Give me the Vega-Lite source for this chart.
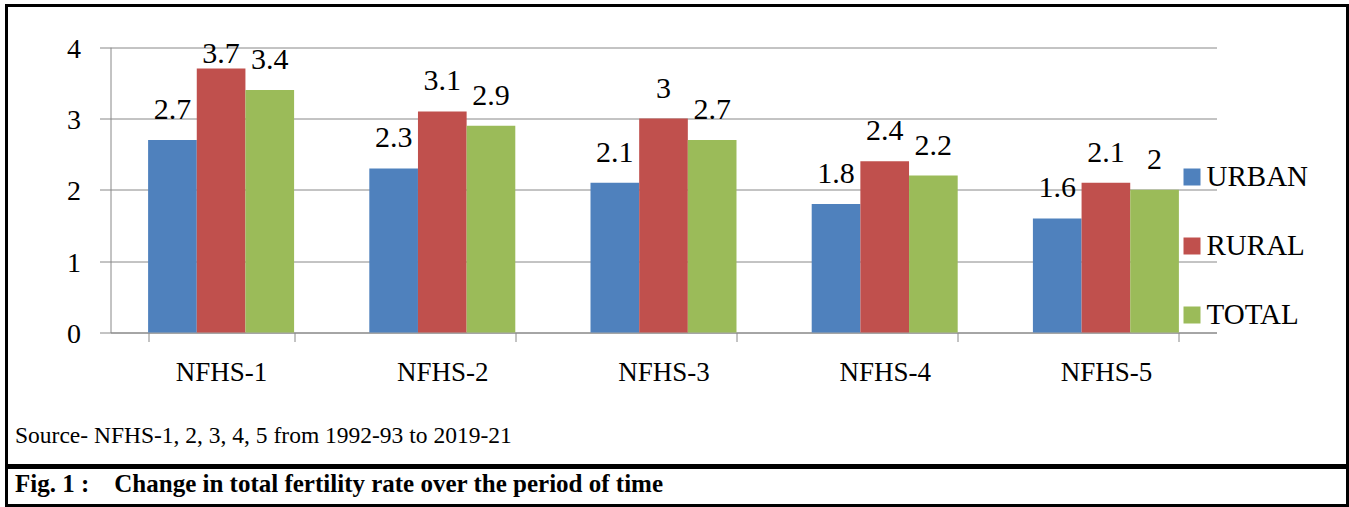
{
  "$schema": "https://vega.github.io/schema/vega-lite/v6.json",
  "padding": {"left": 4.5, "top": 3.5, "right": 0, "bottom": 0},
  "background": "white",
  "spacing": -3,
  "resolve": {"scale": {"color": "independent"}},
  "config": {
    "view": {"stroke": "black", "strokeWidth": 3, "fill": "white"},
    "font": "Liberation Serif",
    "axis": {"labelFont": "Liberation Serif", "titleFont": "Liberation Serif"},
    "legend": {"labelFont": "Liberation Serif", "titleFont": "Liberation Serif"},
    "text": {"font": "Liberation Serif"},
    "title": {"font": "Liberation Serif"}
  },
  "vconcat": [
    {
      "width": 1341,
      "height": 460,
      "data": {
        "values": [
          {"survey": "NFHS-1", "area": "URBAN", "tfr": 2.7},
          {"survey": "NFHS-1", "area": "RURAL", "tfr": 3.7},
          {"survey": "NFHS-1", "area": "TOTAL", "tfr": 3.4},
          {"survey": "NFHS-2", "area": "URBAN", "tfr": 2.3},
          {"survey": "NFHS-2", "area": "RURAL", "tfr": 3.1},
          {"survey": "NFHS-2", "area": "TOTAL", "tfr": 2.9},
          {"survey": "NFHS-3", "area": "URBAN", "tfr": 2.1},
          {"survey": "NFHS-3", "area": "RURAL", "tfr": 3.0},
          {"survey": "NFHS-3", "area": "TOTAL", "tfr": 2.7},
          {"survey": "NFHS-4", "area": "URBAN", "tfr": 1.8},
          {"survey": "NFHS-4", "area": "RURAL", "tfr": 2.4},
          {"survey": "NFHS-4", "area": "TOTAL", "tfr": 2.2},
          {"survey": "NFHS-5", "area": "URBAN", "tfr": 1.6},
          {"survey": "NFHS-5", "area": "RURAL", "tfr": 2.1},
          {"survey": "NFHS-5", "area": "TOTAL", "tfr": 2.0}
        ]
      },
      "encoding": {
        "x": {
          "field": "survey",
          "type": "nominal",
          "sort": null,
          "scale": {"range": [104, 1210], "paddingInner": 0.34, "paddingOuter": 0.17},
          "axis": {
            "orient": "bottom",
            "offset": -133,
            "tickBand": "extent",
            "tickSize": 9,
            "tickColor": "#888888",
            "domainColor": "#888888",
            "labelFont": "Liberation Serif",
            "labelFontSize": 27,
            "labelColor": "black",
            "labelAngle": 0,
            "labelBaseline": "alphabetic",
            "labelPadding": 39,
            "grid": false,
            "title": "Source- NFHS-1, 2, 3, 4, 5 from 1992-93 to 2019-21",
            "titleFont": "Liberation Serif",
            "titleFontSize": 23.5,
            "titleFontWeight": "normal",
            "titleColor": "black",
            "titleAnchor": "start",
            "titleAlign": "left",
            "titleBaseline": "alphabetic",
            "titleX": 8,
            "titleY": 110
          }
        },
        "xOffset": {
          "field": "area",
          "type": "nominal",
          "sort": ["URBAN", "RURAL", "TOTAL"],
          "scale": {"paddingInner": 0, "paddingOuter": 0}
        },
        "y": {
          "field": "tfr",
          "type": "quantitative",
          "scale": {"domain": [0, 4], "range": [327, 41.7], "nice": false, "zero": true},
          "axis": {
            "values": [0, 1, 2, 3, 4],
            "offset": -104,
            "title": null,
            "grid": true,
            "gridColor": "#888888",
            "domainColor": "#888888",
            "tickColor": "#888888",
            "tickSize": 11,
            "labelFont": "Liberation Serif",
            "labelFontSize": 28,
            "labelColor": "black",
            "labelPadding": 19,
            "labelBaseline": "alphabetic",
            "labelOffset": 10
          }
        }
      },
      "layer": [
        {
          "mark": {"type": "bar"},
          "encoding": {
            "color": {
              "field": "area",
              "type": "nominal",
              "sort": ["URBAN", "RURAL", "TOTAL"],
              "scale": {"domain": ["URBAN", "RURAL", "TOTAL"], "range": ["#4F81BD", "#C0504D", "#9BBB59"]},
              "legend": {
                "orient": "none",
                "legendX": 1171,
                "legendY": 157,
                "title": null,
                "symbolType": "square",
                "symbolSize": 289,
                "symbolStrokeWidth": 0,
                "symbolOpacity": 1,
                "labelFont": "Liberation Serif",
                "labelFontSize": 29,
                "labelColor": "black",
                "labelOffset": 0,
                "rowPadding": 39,
                "padding": 0
              }
            }
          }
        },
        {
          "mark": {
            "type": "text",
            "font": "Liberation Serif",
            "baseline": "alphabetic",
            "fontSize": 30,
            "color": "black",
            "dy": {"expr": "datum.tfr > 3.6 ? -6 : -21"}
          },
          "encoding": {"text": {"field": "tfr", "type": "quantitative"}}
        }
      ]
    },
    {
      "width": 1341,
      "height": 38,
      "view": {"stroke": "black", "strokeWidth": 3, "fill": "white"},
      "data": {"values": [{"k": 1}]},
      "mark": {"type": "rule", "opacity": 0},
      "encoding": {
        "x": {
          "datum": 0,
          "type": "quantitative",
          "axis": {
            "orient": "top",
            "domain": false,
            "ticks": false,
            "labels": false,
            "grid": false,
            "title": "Fig. 1 :\u00a0\u00a0\u00a0\u00a0Change in total fertility rate over the period of time",
            "titleFont": "Liberation Serif",
            "titleFontSize": 25,
            "titleFontWeight": "bold",
            "titleColor": "black",
            "titleAnchor": "start",
            "titleAlign": "left",
            "titleBaseline": "alphabetic",
            "titleX": 8,
            "titleY": 24
          }
        }
      }
    }
  ]
}
